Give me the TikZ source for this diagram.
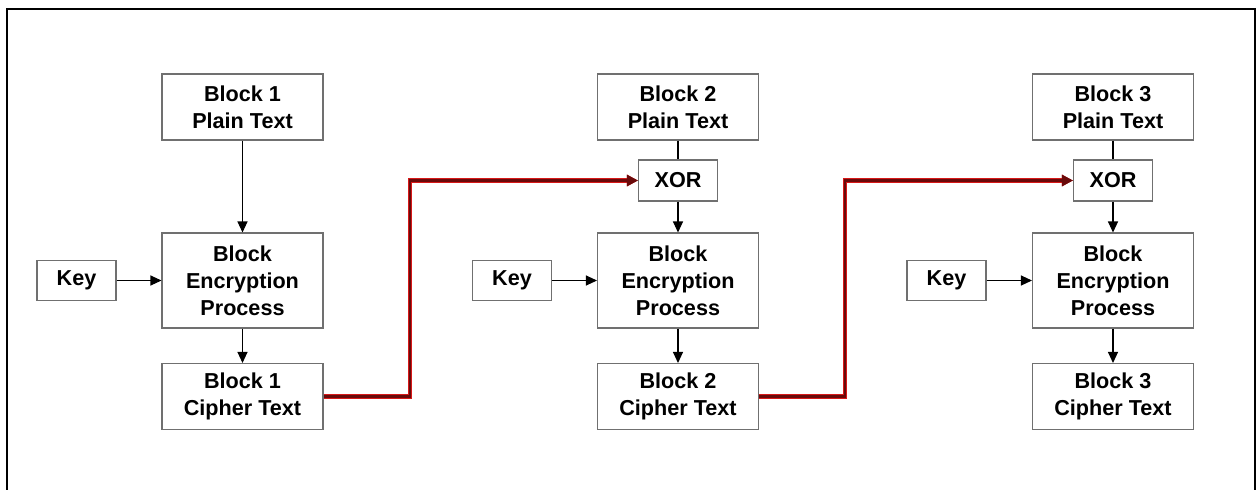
\documentclass[tikz,border=0pt]{standalone}
\usepackage{fontspec}
\setmainfont{Liberation Sans}
\usepackage{tikz}
\usetikzlibrary{arrows.meta,calc}

\definecolor{boxgray}{HTML}{707070}
\definecolor{linkred}{HTML}{D81818}
\definecolor{linkdark}{HTML}{6A0A0A}

\tikzset{
  blockbox/.style={draw=boxgray, line width=0.6pt, align=center, inner sep=0pt,
    font=\fontsize{12.3}{15.3}\selectfont\bfseries},
  plainbox/.style={blockbox, minimum width=3.22cm, minimum height=1.32cm},
  encbox/.style={blockbox, minimum width=3.22cm, minimum height=1.9cm},
  xorbox/.style={blockbox, minimum width=1.58cm, minimum height=0.82cm},
  keybox/.style={blockbox, minimum width=1.58cm, minimum height=0.80cm},
  flow/.style={draw=black, line width=0.6pt, -{Triangle[length=0.22cm,width=0.2cm]}},
  chain/.style={draw=linkdark, line width=1.3pt, line join=miter,
    -{Triangle[length=0.22cm,width=0.22cm]},
    preaction={draw=linkred, line width=2.8pt}}
}

\begin{document}
\begin{tikzpicture}
\useasboundingbox (0,0) rectangle (25.14,-9.78);
% outer frame, runs off the bottom
\draw[line width=1pt] (0.14,-10.5) |- (25.1,-0.18) -- (25.1,-10.5);

% block 1
\node[plainbox] (p1) at (4.85,-2.14) {Block 1\\Plain Text};
\node[encbox] (e1) at (4.85,-5.61) {Block\\Encryption\\Process};
\node[plainbox] (c1) at (4.85,-7.93) {Block 1\\Cipher Text};
\node[keybox] (k1) at (1.53,-5.61) {Key};

% block 2
\node[plainbox] (p2) at (13.56,-2.14) {Block 2\\Plain Text};
\node[xorbox] (x2) at (13.56,-3.61) {XOR};
\node[encbox] (e2) at (13.56,-5.61) {Block\\Encryption\\Process};
\node[plainbox] (c2) at (13.56,-7.93) {Block 2\\Cipher Text};
\node[keybox] (k2) at (10.24,-5.61) {Key};

% block 3
\node[plainbox] (p3) at (22.26,-2.14) {Block 3\\Plain Text};
\node[xorbox] (x3) at (22.26,-3.61) {XOR};
\node[encbox] (e3) at (22.26,-5.61) {Block\\Encryption\\Process};
\node[plainbox] (c3) at (22.26,-7.93) {Block 3\\Cipher Text};
\node[keybox] (k3) at (18.93,-5.61) {Key};

% data flow
\draw[flow] (p1) -- (e1);
\draw[flow] (e1) -- (c1);
\draw[flow] (k1) -- (e1);
\foreach \i in {2,3}{
  \draw[draw=black, line width=0.6pt] (p\i) -- (x\i);
  \draw[flow] (x\i) -- (e\i);
  \draw[flow] (e\i) -- (c\i);
  \draw[flow] (k\i) -- (e\i);
}

% chaining of cipher text into next XOR
\coordinate (bend1) at (8.2,-7.93);
\coordinate (bend2) at (16.9,-7.93);
\draw[chain] (c1.east) -- (bend1) |- (x2.west);
\draw[chain] (c2.east) -- (bend2) |- (x3.west);
\end{tikzpicture}
\end{document}
